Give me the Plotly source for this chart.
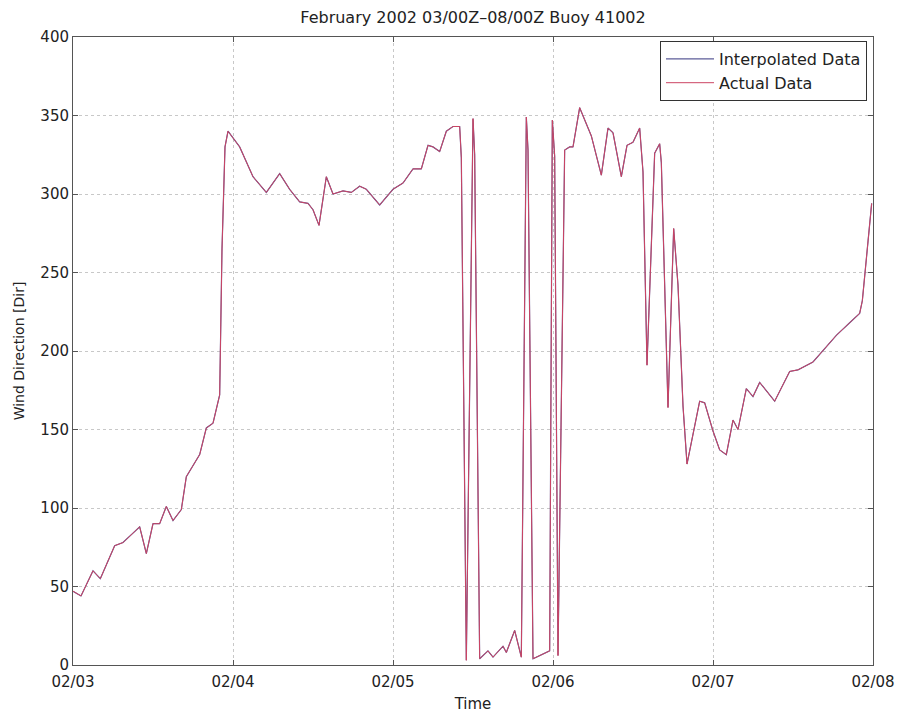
import plotly.graph_objects as go

# Time in hours after 02/03 00Z, wind direction in degrees
hours = [0, 1.2, 3, 4.1, 6.25, 7.5, 10, 11, 12, 13, 14, 15, 16.25, 17, 19, 20, 21, 22, 22.35, 22.8, 23.25,
         25, 27, 29, 31, 32.5, 34, 35.25, 36, 36.9, 38, 39, 40.5, 41.75, 43, 44, 46, 48, 49.5, 51, 52.25,
         53.25, 54, 55, 56, 57, 58, 58.25, 59, 60, 60.25, 61, 62.25, 63, 64.5, 65, 66.25, 67.25, 68, 68.25,
         69, 71, 71.5, 71.9, 72.25, 72.75, 73.75, 74.5, 75, 76, 77.75, 79.25, 80.25, 81, 82.25, 83.1, 84,
         85, 85.5, 86.1, 86.6, 87.25, 88, 88.25, 89.25, 90.1, 90.75, 91.5, 92.1, 94, 94.75, 96, 97, 98,
         99, 99.75, 101, 102, 103, 105.25, 107.5, 108.75, 111, 113, 114.5, 116.5, 118, 118.4, 119.8]
direction = [47, 44, 60, 55, 76, 78, 88, 71, 90, 90, 101, 92, 99, 120, 134, 151, 154, 172, 265, 330, 340,
             330, 311, 301, 313, 303, 295, 294, 290, 280, 311, 300, 302, 301, 305, 303, 293, 303, 307, 316, 316,
             331, 330, 327, 340, 343, 343, 323, 3, 348, 325, 4, 9, 5, 12, 8, 22, 5, 349, 328,
             4, 8, 9, 347, 324, 6, 328, 330, 330, 355, 337, 312, 342, 339, 311, 331, 333,
             342, 314, 191, 250, 326, 332, 320, 164, 278, 242, 165, 128, 168, 167, 149, 137, 134,
             156, 150, 176, 171, 180, 168, 187, 188, 193, 203, 210, 218, 224, 232, 294]

tick_hours = [0, 24, 48, 72, 96, 120]
tick_labels = ["02/03", "02/04", "02/05", "02/06", "02/07", "02/08"]
y_ticks = [0, 50, 100, 150, 200, 250, 300, 350, 400]

font_family = "DejaVu Sans, Liberation Sans, Arial, sans-serif"
text_color = "#222"

fig = go.Figure()
fig.add_trace(go.Scatter(x=hours, y=direction, mode="lines", name="Interpolated Data",
                         line=dict(color="#5c5c98", width=1.2)))
fig.add_trace(go.Scatter(x=hours, y=direction, mode="lines", name="Actual Data",
                         line=dict(color="#cc4463", width=1)))

axis_common = dict(showline=True, linecolor="#555", linewidth=1, mirror="ticks",
                   ticks="inside", ticklen=5, tickcolor="#555",
                   showgrid=True, gridcolor="#c8c8c8", griddash="dot", gridwidth=1,
                   zeroline=False, tickfont=dict(size=15, color=text_color, family=font_family))

fig.update_xaxes(range=[0, 120], tickvals=tick_hours, ticktext=tick_labels,
                 ticklabeloverflow="allow", ticklabelstandoff=3,
                 title=dict(text="Time", font=dict(size=15, color=text_color, family=font_family), standoff=8),
                 **axis_common)
fig.update_yaxes(range=[0, 400], tickvals=y_ticks,
                 title=dict(text="Wind Direction [Dir]", font=dict(size=14, color=text_color, family=font_family), standoff=12),
                 **axis_common)

fig.update_layout(
    width=901, height=719,
    margin=dict(l=73, r=28, t=37, b=54, autoexpand=False),
    paper_bgcolor="white", plot_bgcolor="white",
    title=dict(text="February 2002 03/00Z\u201308/00Z Buoy 41002", x=0.5, xref="paper", xanchor="center",
               y=1 - 17 / 719, yanchor="middle",
               font=dict(size=16, color=text_color, family=font_family)),
    legend=dict(x=1 - 6 / 800, y=1 - 4 / 628, xanchor="right", yanchor="top",
                bgcolor="white", bordercolor="#333", borderwidth=1,
                font=dict(size=16, color=text_color, family=font_family),
                tracegroupgap=0, itemwidth=48),
    showlegend=True,
)

# remove the default 8px page margin so the figure fills the 901x719 window exactly
fig.write_html("out.html", config={"displayModeBar": False},
               post_script="document.body.style.margin='0';")
